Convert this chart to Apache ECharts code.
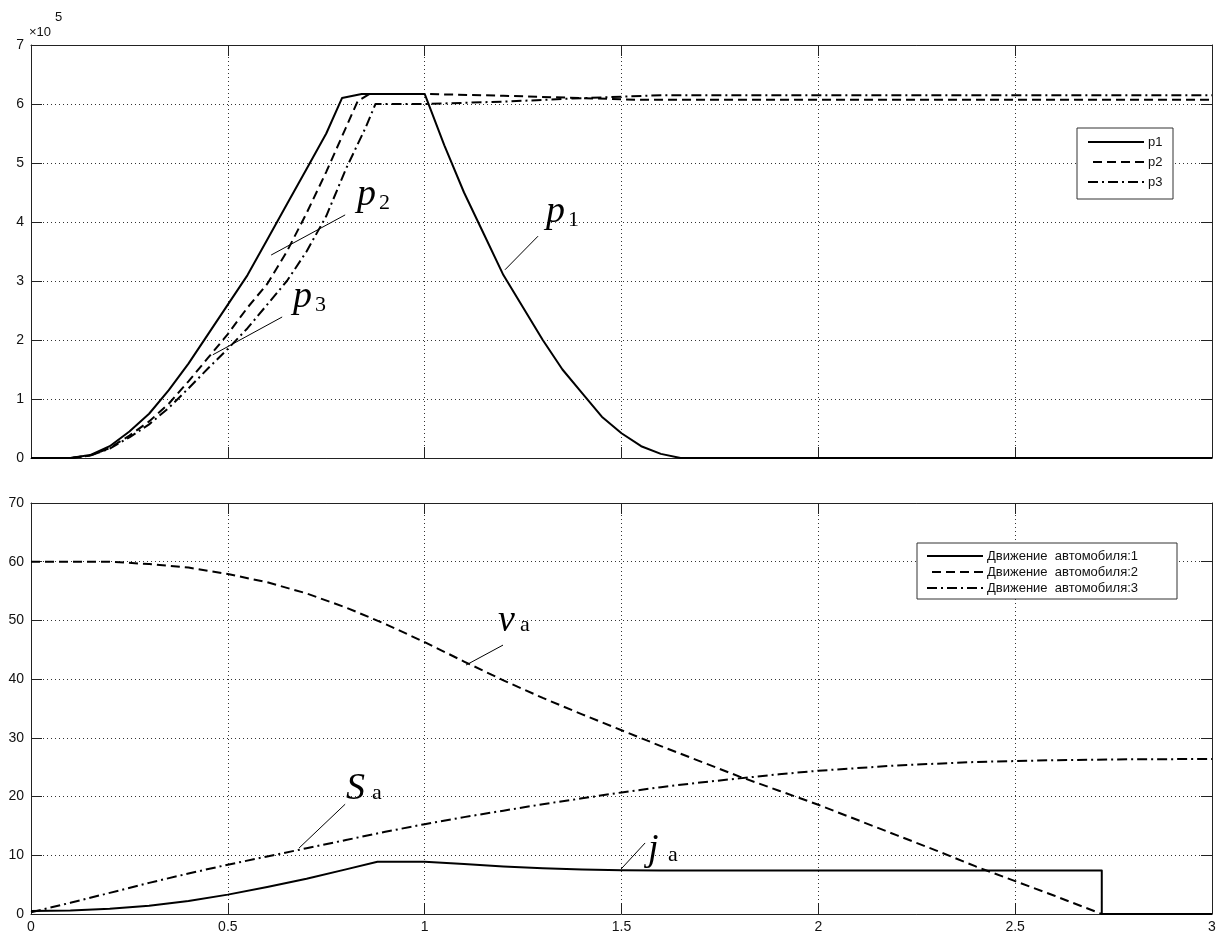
<!DOCTYPE html>
<html><head><meta charset="utf-8">
<script src="https://cdn.jsdelivr.net/npm/echarts@6/dist/echarts.min.js"></script>
<style>html,body{margin:0;padding:0;background:#fff}#c{width:1219px;height:936px}</style>
</head><body><div id="c"></div>
<script>
// ---- data (top plot values in units of 10^5) ----
const p1 = [[0,0],[0.1,0],[0.15,0.05],[0.2,0.2],[0.25,0.45],[0.3,0.75],[0.35,1.15],[0.4,1.6],[0.45,2.1],[0.5,2.6],[0.55,3.1],[0.6,3.7],[0.65,4.3],[0.7,4.9],[0.75,5.5],[0.79,6.1],[0.84,6.17],[1.0,6.17],[1.05,5.3],[1.1,4.5],[1.15,3.8],[1.2,3.1],[1.25,2.55],[1.3,2.0],[1.35,1.5],[1.4,1.1],[1.45,0.7],[1.5,0.42],[1.55,0.2],[1.6,0.07],[1.65,0],[3,0]];
const p2 = [[0,0],[0.1,0],[0.15,0.04],[0.2,0.17],[0.25,0.38],[0.3,0.62],[0.35,0.92],[0.4,1.3],[0.45,1.7],[0.5,2.1],[0.55,2.55],[0.6,2.95],[0.65,3.5],[0.7,4.15],[0.75,4.85],[0.8,5.6],[0.83,6.05],[0.86,6.17],[1.0,6.17],[1.2,6.14],[1.4,6.1],[1.55,6.07],[3,6.07]];
const p3 = [[0,0],[0.1,0],[0.15,0.04],[0.2,0.16],[0.25,0.35],[0.3,0.57],[0.35,0.85],[0.4,1.18],[0.45,1.52],[0.5,1.85],[0.55,2.2],[0.6,2.6],[0.65,3.0],[0.7,3.5],[0.75,4.1],[0.8,4.9],[0.85,5.6],[0.875,6.0],[1.0,6.0],[1.2,6.04],[1.4,6.1],[1.6,6.15],[3,6.15]];
const ja = [[0,0.5],[0.1,0.6],[0.2,0.9],[0.3,1.4],[0.4,2.2],[0.5,3.3],[0.6,4.6],[0.7,6.0],[0.8,7.6],[0.88,8.9],[1.0,8.9],[1.1,8.5],[1.2,8.1],[1.3,7.8],[1.4,7.6],[1.5,7.45],[1.6,7.4],[2.72,7.4],[2.72,0],[3,0]];
const va = [[0,60],[0.1,60],[0.2,60],[0.3,59.6],[0.4,59],[0.5,57.9],[0.6,56.5],[0.7,54.6],[0.8,52.2],[0.9,49.4],[1.0,46.3],[1.1,43],[1.2,39.8],[1.3,36.8],[1.4,34],[1.5,31.3],[1.6,28.6],[1.7,26],[1.8,23.4],[1.9,21],[2.0,18.6],[2.1,16],[2.2,13.4],[2.3,10.8],[2.4,8.1],[2.5,5.6],[2.6,3.1],[2.72,0],[3,0]];
const Sa = [[0,0.3],[0.1,1.9],[0.2,3.6],[0.3,5.3],[0.4,6.9],[0.5,8.4],[0.6,9.8],[0.7,11.2],[0.8,12.6],[0.9,14.0],[1.0,15.3],[1.1,16.5],[1.2,17.6],[1.3,18.7],[1.4,19.7],[1.5,20.7],[1.6,21.6],[1.7,22.4],[1.8,23.1],[1.9,23.8],[2.0,24.4],[2.2,25.3],[2.4,25.9],[2.6,26.2],[2.8,26.35],[3.0,26.4]];
const topLegend = ['p1','p2','p3'];
const bottomLegend = ['Движение  автомобиля:1','Движение  автомобиля:2','Движение  автомобиля:3'];
const xRange = [0, 3, 0.5];
const yTopRange = [0, 7, 1];
const yBotRange = [0, 70, 10];
const scaleText = ['×10', '5'];
// annotations: [grid, main glyph, subscript, text anchor, leader from, leader to]
const notes = [
  [0, 'p', '2', [0.828, 4.127], [0.798, 4.12], [0.610, 3.44]],
  [0, 'p', '3', [0.6655, 2.40], [0.638, 2.39], [0.462, 1.75]],
  [0, 'p', '1', [1.308, 3.84], [1.288, 3.76], [1.204, 3.19]],
  [1, 'v', 'a', [1.186, 46.74], [1.199, 45.8], [1.105, 42.4]],
  [1, 'S', 'a', [0.800, 18.12], [0.798, 18.7], [0.681, 11.24]],
  [1, 'j', 'a', [1.567, 7.6], [1.560, 12.1], [1.499, 7.66]]
];

// ---- styles ----
const DASH = [9, 5];
const DASHDOT = [10, 4, 2, 4];
const styles = ['solid', DASH, DASHDOT];
const AX = '#222';
const lab = {color: '#111', fontFamily: 'Liberation Sans', fontSize: 14};
const grids = [
  {left: 31, right: 7, top: 45, height: 413},
  {left: 31, right: 7, top: 503, height: 411}
];
function xAx(g, pos, labels) {
  return {type: 'value', gridIndex: g, position: pos, min: xRange[0], max: xRange[1], interval: xRange[2],
    axisLine: {show: true, onZero: false, lineStyle: {color: AX, width: 1}},
    axisTick: {show: true, inside: true, length: 11, lineStyle: {color: AX}},
    axisLabel: {show: labels, margin: 6, ...lab},
    splitLine: {show: pos === 'bottom', lineStyle: {color: '#333', width: 1, type: [1, 3]}}};
}
function yAx(g, pos, r, labels) {
  return {type: 'value', gridIndex: g, position: pos, min: r[0], max: r[1], interval: r[2],
    axisLine: {show: true, onZero: false, lineStyle: {color: AX, width: 1}},
    axisTick: {show: true, inside: true, length: 11, lineStyle: {color: AX}},
    axisLabel: {show: labels, margin: 7, ...lab},
    splitLine: {show: pos === 'left', lineStyle: {color: '#333', width: 1, type: [1, 3]}}};
}
function line(name, data, xi, yi, k) {
  return {name, type: 'line', data, xAxisIndex: xi, yAxisIndex: yi, showSymbol: false, symbol: 'none',
    smooth: false, animation: false,
    lineStyle: {color: '#000', width: 2, type: styles[k], join: 'round'}, z: 3};
}
const chart = echarts.init(document.getElementById('c'), null, {renderer: 'canvas'});
chart.setOption({
  backgroundColor: '#fff',
  animation: false,
  grid: grids,
  xAxis: [xAx(0, 'bottom', false), xAx(0, 'top', false), xAx(1, 'bottom', true), xAx(1, 'top', false)],
  yAxis: [yAx(0, 'left', yTopRange, true), yAx(0, 'right', yTopRange, false), yAx(1, 'left', yBotRange, true), yAx(1, 'right', yBotRange, false)],
  series: [
    line(topLegend[0], p1, 0, 0, 0),
    line(topLegend[1], p2, 0, 0, 1),
    line(topLegend[2], p3, 0, 0, 2),
    line(bottomLegend[0], ja, 2, 2, 0),
    line(bottomLegend[1], va, 2, 2, 1),
    line(bottomLegend[2], Sa, 2, 2, 2)
  ]
});

// ---- graphics: legends, scale text, annotations ----
const g = [];
function legendBox(x, y, w, h, x1, x2, tx, y0, dy, names) {
  g.push({type: 'rect', shape: {x, y, width: w, height: h}, style: {fill: '#fff', stroke: '#333', lineWidth: 1}, z: 10});
  names.forEach((n, i) => {
    const yy = y0 + i * dy;
    g.push({type: 'line', shape: {x1: x1 + (i === 1 ? 5 : 0), y1: yy, x2, y2: yy},
      style: {stroke: '#000', lineWidth: 2, lineDash: i === 0 ? null : styles[i]}, z: 11});
    g.push({type: 'text', x: tx, y: yy, style: {text: n, fill: '#111', font: '13px "Liberation Sans"', verticalAlign: 'middle'}, z: 11});
  });
}
legendBox(1077, 128, 96, 71, 1088, 1144, 1148, 142, 20, topLegend);
legendBox(917, 543, 260, 56, 927, 983, 987, 556, 16, bottomLegend);
g.push({type: 'text', x: 29, y: 39, style: {text: scaleText[0], fill: '#111', font: '13px "Liberation Sans"', verticalAlign: 'bottom'}});
g.push({type: 'text', x: 55, y: 24, style: {text: scaleText[1], fill: '#111', font: '13px "Liberation Sans"', verticalAlign: 'bottom'}});
const subOff = {p: [22, 0], v: [22, -3], S: [26, -3], j: [20, -3]};
notes.forEach(([gi, m, s, t, f, to]) => {
  const P = chart.convertToPixel({gridIndex: gi}, t);
  const A = chart.convertToPixel({gridIndex: gi}, f);
  const B = chart.convertToPixel({gridIndex: gi}, to);
  const o = subOff[m];
  g.push({type: 'text', x: P[0], y: P[1], style: {text: m, fill: '#000', font: 'italic 38px "Liberation Serif"', verticalAlign: 'bottom'}, z: 12});
  g.push({type: 'text', x: P[0] + o[0], y: P[1] + o[1], style: {text: s, fill: '#000', font: '22px "Liberation Serif"', verticalAlign: 'bottom'}, z: 12});
  g.push({type: 'line', shape: {x1: A[0], y1: A[1], x2: B[0], y2: B[1]}, style: {stroke: '#000', lineWidth: 1}, z: 12});
});
chart.setOption({graphic: g});
</script>
</body></html>
